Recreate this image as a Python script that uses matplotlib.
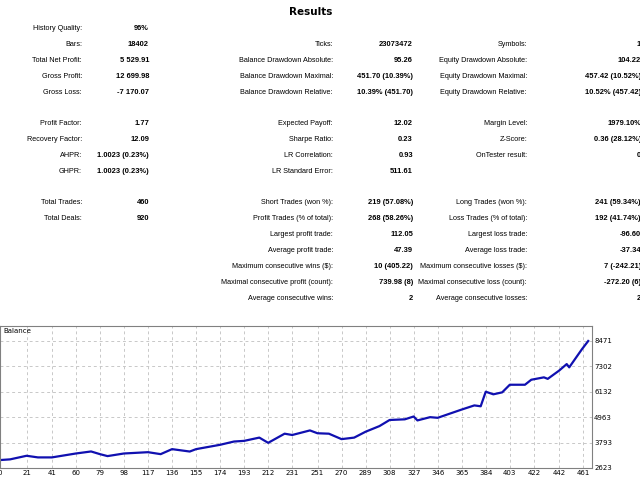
import matplotlib
matplotlib.use("Agg")
import matplotlib.pyplot as plt

trade_idx = [0, 8, 21, 30, 41, 60, 72, 79, 85, 98, 117, 127, 136, 150, 155, 174, 185, 193, 205, 212, 225, 231, 245, 251, 260, 270, 280, 289, 300, 308, 320, 327, 330, 340, 346, 365, 375, 380, 384, 390, 397, 403, 415, 420, 430, 433, 442, 448, 450, 460, 465]
balance = [2988, 3020, 3185, 3110, 3110, 3290, 3383, 3260, 3170, 3290, 3350, 3260, 3490, 3380, 3490, 3690, 3840, 3870, 4020, 3780, 4200, 4140, 4350, 4220, 4200, 3950, 4020, 4290, 4550, 4830, 4860, 4990, 4810, 4960, 4930, 5310, 5500, 5460, 6130, 6010, 6100, 6450, 6450, 6680, 6790, 6720, 7100, 7400, 7250, 8080, 8460]
x_ticks = [0, 21, 41, 60, 79, 98, 117, 136, 155, 174, 193, 212, 231, 251, 270, 289, 308, 327, 346, 365, 384, 403, 422, 442, 461]
y_ticks = [2623, 3793, 4963, 6132, 7302, 8471]

rows = [
    [("History Quality:", "96%"), None, None],
    [("Bars:", "18402"), ("Ticks:", "23073472"), ("Symbols:", "1")],
    [("Total Net Profit:", "5 529.91"), ("Balance Drawdown Absolute:", "95.26"), ("Equity Drawdown Absolute:", "104.22")],
    [("Gross Profit:", "12 699.98"), ("Balance Drawdown Maximal:", "451.70 (10.39%)"), ("Equity Drawdown Maximal:", "457.42 (10.52%)")],
    [("Gross Loss:", "-7 170.07"), ("Balance Drawdown Relative:", "10.39% (451.70)"), ("Equity Drawdown Relative:", "10.52% (457.42)")],
    None,
    [("Profit Factor:", "1.77"), ("Expected Payoff:", "12.02"), ("Margin Level:", "1979.10%")],
    [("Recovery Factor:", "12.09"), ("Sharpe Ratio:", "0.23"), ("Z-Score:", "0.36 (28.12%)")],
    [("AHPR:", "1.0023 (0.23%)"), ("LR Correlation:", "0.93"), ("OnTester result:", "0")],
    [("GHPR:", "1.0023 (0.23%)"), ("LR Standard Error:", "511.61"), None],
    None,
    [("Total Trades:", "460"), ("Short Trades (won %):", "219 (57.08%)"), ("Long Trades (won %):", "241 (59.34%)")],
    [("Total Deals:", "920"), ("Profit Trades (% of total):", "268 (58.26%)"), ("Loss Trades (% of total):", "192 (41.74%)")],
    [None, ("Largest profit trade:", "112.05"), ("Largest loss trade:", "-96.60")],
    [None, ("Average profit trade:", "47.39"), ("Average loss trade:", "-37.34")],
    [None, ("Maximum consecutive wins ($):", "10 (405.22)"), ("Maximum consecutive losses ($):", "7 (-242.21)")],
    [None, ("Maximal consecutive profit (count):", "739.98 (8)"), ("Maximal consecutive loss (count):", "-272.20 (6)")],
    [None, ("Average consecutive wins:", "2"), ("Average consecutive losses:", "2")],
]

fig = plt.figure(figsize=(6.4, 4.8), dpi=100)
W, H = 640, 480
fig.text(311/W, 1-12/H, "Results", ha="center", va="center", fontsize=7.5, fontweight="bold")
label_x = [82, 333, 527]
value_x = [149, 413, 641]
y = 29
for r in rows:
    if r is not None:
        for c, cell in enumerate(r):
            if cell:
                fig.text(label_x[c]/W, 1-y/H, cell[0], ha="right", va="center", fontsize=5.2, family="Liberation Sans")
                fig.text(value_x[c]/W, 1-y/H, cell[1], ha="right", va="center", fontsize=5.4, fontweight="bold", family="Liberation Sans")
        y += 16
    else:
        y += 14.5

ax = fig.add_axes([0, 12/H, 592/W, 142/H])
ax.plot(trade_idx, balance, color="#1010b0", lw=1.6)
ax.set_xlim(0, 468)
ax.set_ylim(2623, 9150)
ax.set_xticks(x_ticks)
ax.set_yticks(y_ticks)
ax.yaxis.tick_right()
ax.tick_params(labelsize=5, length=0, pad=1.5)
ax.grid(True, color="#c8c8c8", ls=(0, (3, 3)), lw=0.7)
for s in ax.spines.values():
    s.set_color("#808080")
    s.set_linewidth(0.8)
ax.text(3, 9150 - 80, "Balance", fontsize=5, va="top", ha="left")
fig.savefig("out.png", dpi=100)
